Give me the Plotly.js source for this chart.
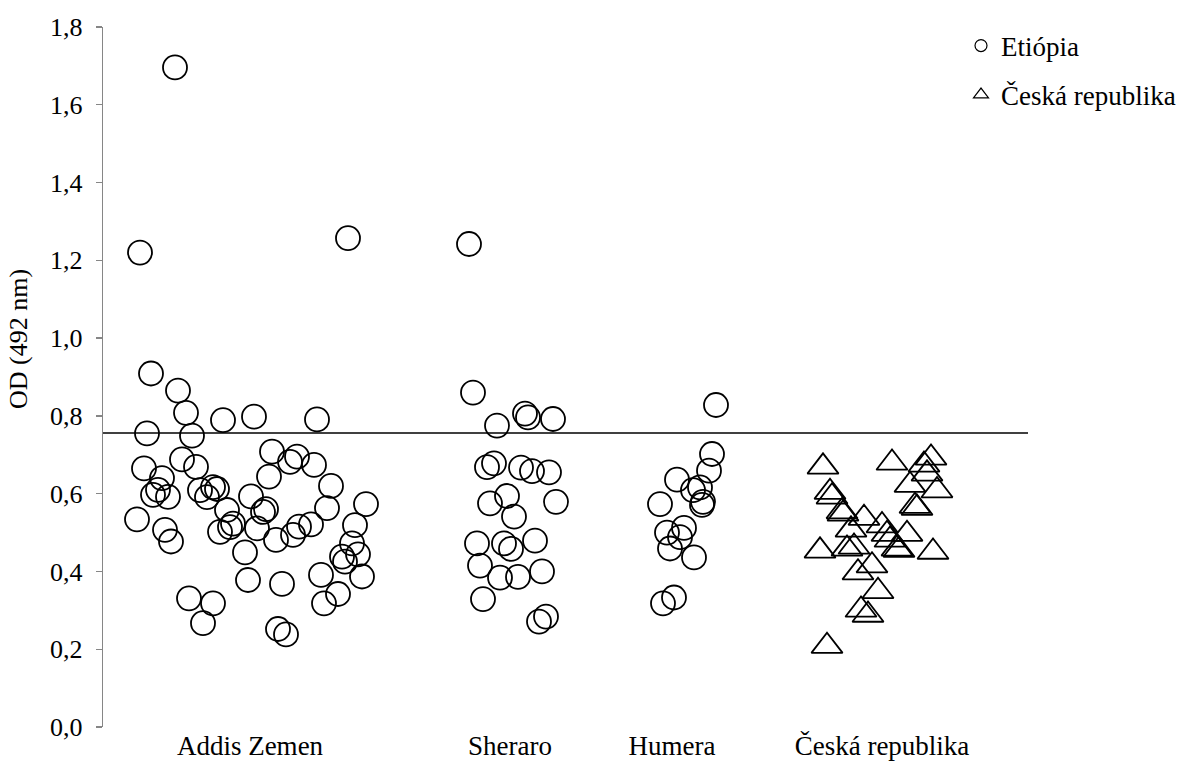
<!DOCTYPE html>
<html>
<head>
<meta charset="utf-8">
<script src="https://cdn.plot.ly/plotly-3.0.1.min.js"></script>
<style>
  html, body { margin: 0; padding: 0; background: #ffffff; }
  #chart { width: 1179px; height: 763px; }
</style>
</head>
<body>
<div id="chart"></div>
<script>
// Category labels and their positions on the jittered x scale
const categories = ['Addis Zemen', 'Sheraro', 'Humera', 'Česká republika'];
const categoryPos = [1.47, 4.07, 5.69, 7.79];

// Cut-off value (horizontal reference line)
const cutoff = 0.756;

// Addis Zemen – jittered x and OD values
const addisX = [0.72, 0.37, 2.45, 0.48, 0.75, 0.83, 1.20, 1.51, 2.14, 0.44,
                0.89, 1.69, 0.79, 1.94, 1.87, 2.11, 0.93, 0.41, 1.66, 0.59,
                2.28, 0.50, 0.55, 0.65, 0.97, 1.04, 1.10, 1.14, 1.48, 1.60,
                1.63, 2.24, 2.63, 0.34, 0.62, 0.68, 1.24, 1.30, 1.17, 1.27,
                1.54, 1.42, 1.73, 1.90, 1.96, 2.08, 2.52, 2.49, 2.39, 2.42,
                2.55, 2.59, 2.18, 2.35, 2.21, 1.79, 1.45, 0.86, 1.10, 1.00,
                1.75, 1.83];
const addisY = [1.696, 1.220, 1.257, 0.909, 0.865, 0.808, 0.789, 0.798, 0.791, 0.755,
                0.749, 0.708, 0.688, 0.695, 0.682, 0.674, 0.669, 0.665, 0.644, 0.640,
                0.620, 0.597, 0.610, 0.592, 0.609, 0.591, 0.617, 0.612, 0.593, 0.553,
                0.560, 0.563, 0.573, 0.534, 0.507, 0.477, 0.558, 0.523, 0.502, 0.514,
                0.511, 0.449, 0.481, 0.494, 0.515, 0.521, 0.519, 0.472, 0.438, 0.425,
                0.444, 0.387, 0.391, 0.342, 0.318, 0.368, 0.378, 0.331, 0.318, 0.267,
                0.252, 0.238];

// Sheraro
const sheraroX = [3.66, 3.70, 3.94, 4.22, 4.25, 4.50, 3.84, 3.91, 4.18, 4.29,
                  4.46, 3.87, 4.04, 4.11, 4.53, 3.74, 4.01, 4.08, 4.32, 3.77,
                  3.97, 4.15, 4.39, 3.80, 4.36, 4.43];
const sheraroY = [1.242, 0.860, 0.775, 0.806, 0.796, 0.792, 0.668, 0.678, 0.667, 0.658,
                  0.655, 0.575, 0.594, 0.541, 0.579, 0.472, 0.472, 0.458, 0.479, 0.415,
                  0.384, 0.386, 0.400, 0.329, 0.271, 0.284];

// Humera
const humeraX = [6.13, 6.09, 6.06, 5.74, 5.90, 5.97, 5.57, 6.00, 5.99, 5.81,
                 5.64, 5.77, 5.67, 5.91, 5.60, 5.71];
const humeraY = [0.828, 0.702, 0.659, 0.636, 0.609, 0.616, 0.573, 0.579, 0.571, 0.512,
                 0.500, 0.488, 0.459, 0.436, 0.318, 0.333];

// Česká republika
const czX = [7.20, 7.89, 8.28, 8.21, 8.24, 8.07, 8.34, 8.12, 8.14, 7.27,
             7.29, 7.39, 7.40, 7.61, 7.48, 7.79, 7.84, 8.04, 7.87, 7.94,
             7.96, 7.17, 8.30, 7.44, 7.51, 7.69, 7.55, 7.75, 7.58, 7.65,
             7.24];
const czY = [0.669, 0.679, 0.692, 0.674, 0.651, 0.622, 0.608, 0.568, 0.563, 0.604,
             0.592, 0.554, 0.548, 0.537, 0.507, 0.518, 0.496, 0.496, 0.481, 0.458,
             0.455, 0.453, 0.450, 0.458, 0.463, 0.415, 0.397, 0.349, 0.301, 0.288,
             0.208];

const yTitle = 'OD (492 nm)';

const serif = 'Liberation Serif';
const ink = '#000000';

const circle = {symbol: 'circle-open', size: 24, color: ink, line: {color: ink, width: 1.8}};
const triangle = {symbol: 'triangle-up-open', size: 27, color: ink, line: {color: ink, width: 1.8}};

const ethiopiaX = addisX.concat(sheraroX, humeraX);
const ethiopiaY = addisY.concat(sheraroY, humeraY);

const traces = [
  {x: ethiopiaX, y: ethiopiaY, type: 'scatter', mode: 'markers',
   name: 'Etiópia', marker: circle, showlegend: false, hoverinfo: 'y'},
  {x: czX, y: czY, type: 'scatter', mode: 'markers',
   name: 'Česká republika', marker: triangle, showlegend: false, hoverinfo: 'y'},
  // legend entries with small symbols
  {x: [null], y: [null], type: 'scatter', mode: 'markers', name: 'Etiópia',
   marker: {symbol: 'circle-open', size: 12, color: ink, line: {color: ink, width: 1.2}},
   legend: 'legend'},
  {x: [null], y: [null], type: 'scatter', mode: 'markers', name: 'Česká republika',
   marker: {symbol: 'triangle-up-open', size: 13, color: ink, line: {color: ink, width: 1.2}},
   legend: 'legend2'}
];

const legendBase = {
  xref: 'container', yref: 'container', xanchor: 'left', yanchor: 'middle',
  bgcolor: 'rgba(0,0,0,0)', borderwidth: 0,
  font: {family: serif, size: 27, color: ink},
  itemsizing: 'trace'
};

const layout = {
  width: 1179, height: 763,
  margin: {l: 103, r: 151, t: 27, b: 36, autoexpand: false},
  paper_bgcolor: '#ffffff', plot_bgcolor: '#ffffff',
  separators: ', ',
  font: {family: serif, size: 27, color: ink},
  showlegend: true,
  legend: Object.assign({}, legendBase, {x: 961 / 1179, y: 1 - 46 / 763}),
  legend2: Object.assign({}, legendBase, {x: 961 / 1179, y: 1 - 95 / 763}),
  xaxis: {
    range: [0, 9.25], showgrid: false, zeroline: false, showline: false,
    tickmode: 'array', tickvals: categoryPos, ticktext: categories,
    ticks: '', tickfont: {family: serif, size: 27, color: ink},
    automargin: false
  },
  yaxis: {
    range: [0, 1.8], dtick: 0.2, tick0: 0, tickformat: '.1f',
    showgrid: false, zeroline: false, showline: true,
    linecolor: '#868686', linewidth: 1.3,
    ticks: 'outside', ticklen: 6, tickcolor: '#868686', tickwidth: 1.3,
    ticklabelstandoff: 8,
    tickfont: {family: serif, size: 26, color: ink},
    automargin: false
  },
  annotations: [{
    text: yTitle, textangle: -90, showarrow: false,
    xref: 'paper', x: -85 / 925, xanchor: 'center',
    yref: 'paper', y: (727 - 339) / 700, yanchor: 'middle',
    font: {family: serif, size: 26, color: ink}
  }],
  shapes: [{
    type: 'line', xref: 'paper', x0: 0, x1: 1, yref: 'y', y0: cutoff, y1: cutoff,
    line: {color: ink, width: 1.6}
  }]
};

Plotly.newPlot('chart', traces, layout, {displayModeBar: false, staticPlot: true});
</script>
</body>
</html>
